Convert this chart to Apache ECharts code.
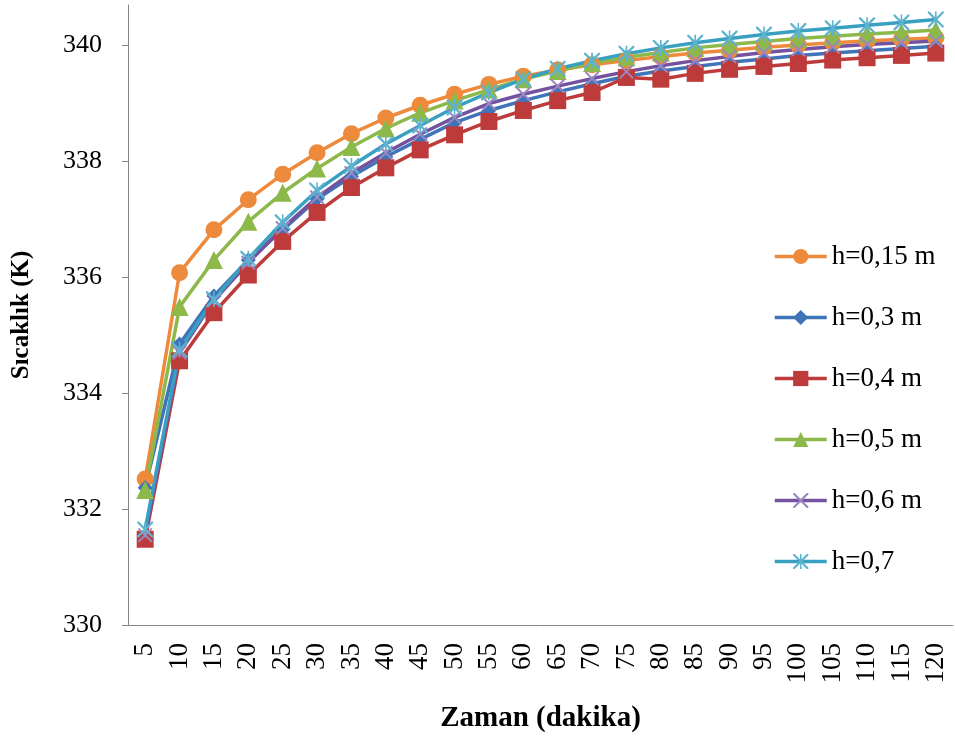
<!DOCTYPE html>
<html>
<head>
<meta charset="utf-8">
<script src="https://cdn.jsdelivr.net/npm/echarts@6/dist/echarts.min.js"></script>
<style>
  html, body { margin: 0; padding: 0; background: #ffffff; }
  #chart { width: 955px; height: 740px; }
</style>
</head>
<body>
<div id="chart"></div>
<script>
// Time steps (minutes)
const categories = ['5','10','15','20','25','30','35','40','45','50','55','60',
  '65','70','75','80','85','90','95','100','105','110','115','120'];

// Temperature axis ticks (K)
const yTicks = [330, 332, 334, 336, 338, 340];

// Temperature readings (K) for each depth
const h015 = [332.52, 336.08, 336.82, 337.34, 337.78, 338.15, 338.48, 338.75, 338.97, 339.16, 339.33, 339.47,
  339.58, 339.67, 339.74, 339.81, 339.87, 339.92, 339.97, 340.01, 340.05, 340.08, 340.11, 340.13];
const h03 = [332.37, 334.85, 335.68, 336.30, 336.82, 337.35, 337.74, 338.08, 338.38, 338.67, 338.88, 339.05,
  339.20, 339.34, 339.47, 339.56, 339.64, 339.71, 339.77, 339.83, 339.87, 339.91, 339.95, 339.99];
const h04 = [331.48, 334.56, 335.39, 336.04, 336.62, 337.12, 337.55, 337.89, 338.20, 338.46, 338.69, 338.88,
  339.05, 339.19, 339.45, 339.42, 339.52, 339.59, 339.64, 339.69, 339.75, 339.79, 339.83, 339.87];
const h05 = [332.33, 335.49, 336.30, 336.96, 337.46, 337.88, 338.25, 338.57, 338.84, 339.05, 339.24, 339.42,
  339.56, 339.70, 339.80, 339.88, 339.96, 340.02, 340.07, 340.12, 340.16, 340.20, 340.23, 340.27];
const h06 = [331.55, 334.70, 335.60, 336.25, 336.85, 337.38, 337.80, 338.15, 338.47, 338.76, 339.00, 339.16,
  339.30, 339.43, 339.55, 339.65, 339.74, 339.81, 339.88, 339.93, 339.98, 340.02, 340.05, 340.08];
const h07 = [331.65, 334.75, 335.62, 336.32, 336.95, 337.50, 337.92, 338.30, 338.62, 338.93, 339.19, 339.42,
  339.60, 339.74, 339.86, 339.96, 340.05, 340.12, 340.19, 340.25, 340.30, 340.35, 340.40, 340.45];

// Thin cross and asterisk marker outlines
const crossPath = 'path://M0,0 L2,0 L10,8 L18,0 L20,0 L20,2 L12,10 L20,18 L20,20 L18,20 L10,12 L2,20 L0,20 L0,18 L8,10 L0,2 Z';
const starPath = 'path://M0,0 L2,0 L10,8 L18,0 L20,0 L20,2 L12,10 L20,18 L20,20 L18,20 L10,12 L2,20 L0,20 L0,18 L8,10 L0,2 Z M9,0 L11,0 L11,20 L9,20 Z';

const serif = 'Liberation Serif';

function makeSeries(name, data, color, symbol, size, markerColor) {
  return {
    name: name,
    type: 'line',
    data: data,
    symbol: symbol,
    symbolSize: size,
    showSymbol: true,
    smooth: false,
    lineStyle: { color: color, width: 3.5 },
    itemStyle: { color: markerColor || color, borderColor: markerColor || color, borderWidth: 0, opacity: 1 },
    emphasis: { disabled: true },
    animation: false
  };
}

const chart = echarts.init(document.getElementById('chart'), null, { renderer: 'canvas' });

chart.setOption({
  backgroundColor: '#ffffff',
  animation: false,
  grid: { left: 128, right: 2, top: 5, bottom: 115, containLabel: false },
  legend: {
    orient: 'vertical',
    left: 768,
    top: 236,
    itemWidth: 52,
    itemHeight: 19,
    itemGap: 30,
    lineStyle: { width: 3.5 },
    textStyle: { fontFamily: serif, fontSize: 27, color: '#000000', lineHeight: 31 },
    data: ['h=0,15 m', 'h=0,3 m', 'h=0,4 m', 'h=0,5 m', 'h=0,6 m', 'h=0,7']
  },
  xAxis: {
    type: 'category',
    data: categories,
    boundaryGap: true,
    name: 'Zaman (dakika)',
    nameLocation: 'middle',
    nameGap: 79,
    nameTextStyle: { fontFamily: serif, fontWeight: 'bold', fontSize: 29, color: '#000000', verticalAlign: 'top' },
    axisLine: { lineStyle: { color: '#868686', width: 1 } },
    axisTick: { show: false },
    axisLabel: { rotate: 90, margin: 18, fontFamily: serif, fontSize: 27, color: '#000000', interval: 0 },
    splitLine: { show: false }
  },
  yAxis: {
    type: 'value',
    min: 330,
    max: 340.7,
    interval: 2,
    name: 'Sıcaklık (K)',
    nameLocation: 'middle',
    nameRotate: 90,
    nameGap: 94,
    nameTextStyle: { fontFamily: serif, fontWeight: 'bold', fontSize: 25, color: '#000000' },
    axisLine: { show: true, lineStyle: { color: '#868686', width: 1 } },
    axisTick: { show: true, length: 6, lineStyle: { color: '#868686' },
      customValues: yTicks },
    axisLabel: { margin: 26, fontFamily: serif, fontSize: 26, color: '#000000',
      customValues: yTicks },
    splitLine: { show: false }
  },
  series: [
    makeSeries('h=0,15 m', h015, '#EE8A3C', 'circle', 17),
    makeSeries('h=0,3 m', h03, '#3F74B8', 'diamond', 15),
    makeSeries('h=0,4 m', h04, '#BE3B3B', 'rect', 17),
    makeSeries('h=0,5 m', h05, '#8DB84A', 'triangle', 18),
    makeSeries('h=0,6 m', h06, '#7452A0', crossPath, 14, '#9C86C0'),
    makeSeries('h=0,7', h07, '#39A0C2', starPath, 16, '#5DB3CF')
  ]
});
</script>
</body>
</html>
